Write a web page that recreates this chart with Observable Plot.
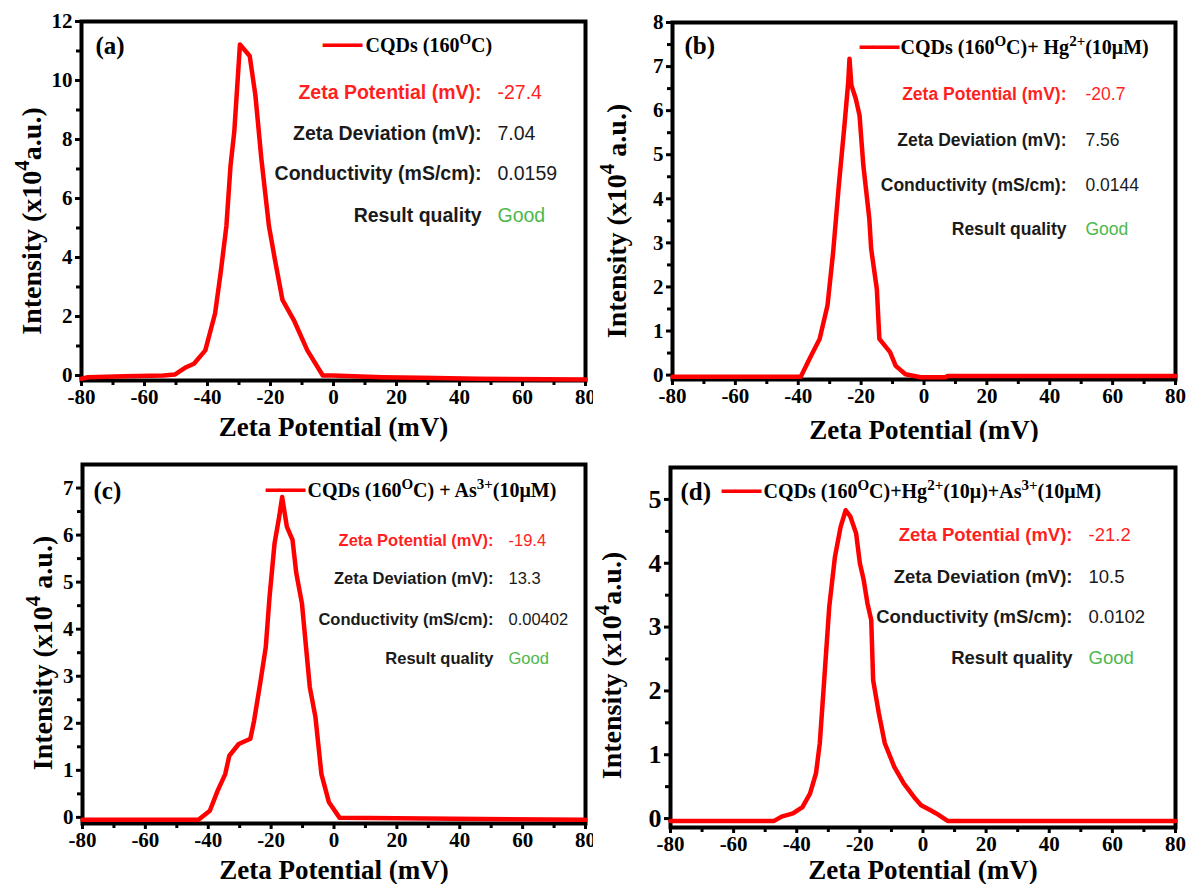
<!DOCTYPE html>
<html>
<head>
<meta charset="utf-8">
<script src="https://cdn.jsdelivr.net/npm/d3@7"></script>
<script src="https://cdn.jsdelivr.net/npm/@observablehq/plot@0.6"></script>
<style>
  html, body { margin: 0; padding: 0; background: #fff; }
  #root { position: relative; width: 1186px; height: 884px; overflow: hidden; }
  .cell { position: absolute; width: 593px; height: 442px; }
</style>
</head>
<body>
<div id="root"></div>
<script>
// ---------- data ----------
const xTicks = [-80, -60, -40, -20, 0, 20, 40, 60, 80];
const xMinor = [-70, -50, -30, -10, 10, 30, 50, 70];

const zetaA = [-80, -78, -66.3, -54, -50.4, -46.8, -44.3, -40.7, -37.6, -35.8, -34, -32.7, -31.5, -29.7, -26.6, -24.8, -22.9, -20.5, -18.6, -16.2, -12.6, -8.3, -3.4, -0.4, 15.5, 27.7, 46, 80];
const intensityA = [-0.11, -0.06, -0.03, 0, 0.03, 0.28, 0.4, 0.85, 2.1, 3.5, 5.07, 7.1, 8.26, 11.22, 10.83, 9.5, 7.35, 5.07, 3.93, 2.56, 1.88, 0.85, 0, 0, -0.06, -0.08, -0.11, -0.14];

const zetaB = [-80, -39.2, -36.2, -33.2, -30.7, -28.9, -27.1, -25.3, -24.1, -23.7, -23.1, -21.7, -20.5, -19.3, -17.4, -16.8, -15, -14.2, -10.8, -9, -5.9, -1.1, 6.8, 7.4, 80];
const intensityB = [-0.04, -0.04, 0.4, 0.82, 1.58, 2.79, 4.3, 5.67, 6.65, 7.18, 6.58, 6.27, 5.89, 4.76, 3.55, 2.86, 1.95, 0.82, 0.52, 0.21, 0.02, -0.05, -0.05, -0.02, -0.02];

const zetaC = [-80, -43.1, -39.5, -37, -34.6, -33.3, -30.3, -26.6, -25.4, -23.5, -21.7, -20.5, -18.9, -17.4, -16.5, -15, -13.2, -12, -10.2, -8.9, -7.7, -5.9, -4, -1.6, 1.8, 80];
const intensityC = [-0.05, -0.05, 0.14, 0.57, 0.92, 1.31, 1.56, 1.67, 2.06, 2.84, 3.62, 4.69, 5.83, 6.4, 6.81, 6.18, 5.9, 5.19, 4.55, 3.62, 2.77, 2.13, 0.92, 0.32, -0.01, -0.05];

const zetaD = [-80, -47.3, -44.8, -41.2, -38.2, -35.8, -33.9, -32.7, -31.3, -29.7, -27.9, -26.1, -24.5, -23, -21.2, -20, -18.8, -17.6, -16.4, -15.8, -14, -12.1, -9.1, -6.1, -2.4, -0.6, 2.4, 4.2, 7.9, 80];
const intensityD = [-0.04, -0.04, 0.03, 0.08, 0.18, 0.39, 0.71, 1.18, 2.17, 3.32, 4.1, 4.57, 4.83, 4.73, 4.47, 4.0, 3.74, 3.37, 3.11, 2.17, 1.65, 1.18, 0.81, 0.55, 0.31, 0.21, 0.13, 0.08, -0.04, -0.04];

const panelTags = ["(a)", "(b)", "(c)", "(d)"];
const legendTexts = [
  "CQDs (160^O^C)",
  "CQDs (160^O^C)+ Hg^2+^(10μM)",
  "CQDs (160^O^C) + As^3+^(10μM)",
  "CQDs (160^O^C)+Hg^2+^(10μ)+As^3+^(10μM)"
];
const statLabels = ["Zeta Potential (mV):", "Zeta Deviation (mV):", "Conductivity (mS/cm):", "Result quality"];
const statsA = ["-27.4", "7.04", "0.0159", "Good"];
const statsB = ["-20.7", "7.56", "0.0144", "Good"];
const statsC = ["-19.4", "13.3", "0.00402", "Good"];
const statsD = ["-21.2", "10.5", "0.0102", "Good"];

const yTicksA = [0, 2, 4, 6, 8, 10, 12], yMinorA = [1, 3, 5, 7, 9, 11];
const yTicksB = [0, 1, 2, 3, 4, 5, 6, 7, 8], yMinorB = [0.5, 1.5, 2.5, 3.5, 4.5, 5.5, 6.5, 7.5];
const yTicksC = [0, 1, 2, 3, 4, 5, 6, 7], yMinorC = [0.5, 1.5, 2.5, 3.5, 4.5, 5.5, 6.5];
const yTicksD = [0, 1, 2, 3, 4, 5], yMinorD = [0.5, 1.5, 2.5, 3.5, 4.5];

const xTitle = "Zeta Potential (mV)";
const yTitles = ["Intensity (x10^4^a.u.)", "Intensity (x10^4^ a.u.)", "Intensity (x10^4^ a.u.)", "Intensity (x10^4^a.u.)"];

// ---------- layout / style ----------
const serif = "'Liberation Serif', 'Times New Roman', serif";
const sans = "'Liberation Sans', Arial, sans-serif";
const RED = "#ff0000", STATRED = "#ff1f1f", GREEN = "#4cb84c", DARK = "#1a1a1a";

const panels = [
  {left: 0, top: 0, zeta: zetaA, intensity: intensityA, stats: statsA, yDomain: [-0.17, 12], yTicks: yTicksA, yMinor: yMinorA,
   m: {l: 81, r: 8, t: 21, b: 62}, tag: [14, 24], leg: [261, 24, 284], statX: [400, 416], statY: [71, 112, 152, 194], statSize: 19.5,
   xt: 47, yt: [-49, 20]},
  {left: 593, top: 0, zeta: zetaB, intensity: intensityB, stats: statsB, yDomain: [-0.1, 8], yTicks: yTicksB, yMinor: yMinorB,
   m: {l: 79, r: 11, t: 22, b: 63}, tag: [12, 23], leg: [207, 25, 228], statX: [394, 413], statY: [72, 118, 163, 207], statSize: 17.5,
   xt: 51, yt: [-55, 20]},
  {left: 0, top: 442, zeta: zetaC, intensity: intensityC, stats: statsC, yDomain: [-0.13, 7.5], yTicks: yTicksC, yMinor: yMinorC,
   m: {l: 82, r: 8, t: 22, b: 61}, tag: [11, 26], leg: [203, 26, 225], statX: [411, 426], statY: [76, 114, 155, 194], statSize: 16.5,
   xt: 47, yt: [-39, 9]},
  {left: 593, top: 442, zeta: zetaD, intensity: intensityD, stats: statsD, yDomain: [-0.14, 5.5], yTicks: yTicksD, yMinor: yMinorD,
   m: {l: 77, r: 11, t: 25, b: 57}, tag: [10, 24], leg: [71, 24, 93], statX: [402, 418], statY: [68, 110, 150, 191], statSize: 18.5,
   xt: 43, yt: [-58, 18], yTickFont: 26}
];

function at(str, dx, dy, opts) {
  return Plot.text([str], {text: d => d, frameAnchor: "top-left", dx, dy, lineAnchor: "middle", ...opts});
}

function richify(svg) {
  d3.select(svg).selectAll("text").each(function () {
    const t = this.textContent;
    if (!t.includes("^")) return;
    const sel = d3.select(this);
    sel.text(null);
    t.split("^").forEach((part, i) => {
      if (!part) return;
      const ts = sel.append("tspan").text(part);
      if (i % 2 === 1) ts.attr("baseline-shift", "super").attr("font-size", "75%");
    });
  });
}

const fmt = d => String(d);
const root = document.getElementById("root");
panels.forEach((p, k) => {
  const data = p.zeta.map((z, i) => ({z, v: p.intensity[i]}));
  const marks = [
    Plot.frame({stroke: "black", strokeWidth: 4}),
    Plot.axisX({ticks: xTicks, tickSize: 6, tickPadding: 3, strokeWidth: 3, label: null, tickFormat: fmt}),
    Plot.axisX({ticks: xMinor, tickSize: 5, strokeWidth: 3, tickFormat: () => "", label: null}),
    Plot.axisY({ticks: p.yTicks, tickSize: 6, tickPadding: 3, strokeWidth: 3, label: null, tickFormat: fmt, className: "ytl"}),
    Plot.axisY({ticks: p.yMinor, tickSize: 5, strokeWidth: 3, tickFormat: () => "", label: null}),
    Plot.line(data, {x: "z", y: "v", stroke: RED, strokeWidth: 4.5, strokeLinejoin: "round"}),
    at(panelTags[k], p.tag[0], p.tag[1], {textAnchor: "start", fontFamily: serif, fontWeight: "bold", fontSize: 25}),
    at("━━━", p.leg[0], p.leg[1], {textAnchor: "middle", fontFamily: "'DejaVu Sans Mono', monospace", fontSize: 22, fill: RED, fontWeight: "normal"}),
    at(legendTexts[k], p.leg[2], p.leg[1], {textAnchor: "start", fontFamily: serif, fontWeight: "bold", fontSize: 20}),
    Plot.text([xTitle], {text: d => d, frameAnchor: "bottom", dy: p.xt, lineAnchor: "middle", fontFamily: serif, fontWeight: "bold", fontSize: 27}),
    Plot.text([yTitles[k]], {text: d => d, frameAnchor: "left", dx: p.yt[0], dy: p.yt[1], rotate: -90, textAnchor: "middle", lineAnchor: "middle", fontFamily: serif, fontWeight: "bold", fontSize: 28})
  ];
  statLabels.forEach((lab, r) => {
    marks.push(at(lab, p.statX[0], p.statY[r], {textAnchor: "end", fontFamily: sans, fontWeight: "bold", fontSize: p.statSize, fill: r === 0 ? STATRED : DARK}));
    marks.push(at(p.stats[r], p.statX[1], p.statY[r], {textAnchor: "start", fontFamily: sans, fontWeight: "normal", fontSize: p.statSize, fill: r === 0 ? STATRED : r === 3 ? GREEN : DARK}));
  });
  const chart = Plot.plot({
    width: 593, height: 442,
    marginLeft: p.m.l, marginRight: p.m.r, marginTop: p.m.t, marginBottom: p.m.b,
    x: {domain: [-80, 80]},
    y: {domain: p.yDomain},
    style: {background: "white", color: "black", overflow: "visible", fontFamily: serif, fontWeight: "bold", fontSize: "21px"},
    marks
  });
  richify(chart);
  if (p.yTickFont) {
    d3.select(chart).selectAll("g").filter(function () {
      const a = this.getAttribute("aria-label") || "";
      const c = this.getAttribute("class") || "";
      return (a.startsWith("y-axis") && a.includes("label")) || c.includes("ytl");
    }).attr("font-size", p.yTickFont).selectAll("text").style("font-size", p.yTickFont + "px");
  }
  const cell = document.createElement("div");
  cell.className = "cell";
  cell.style.left = p.left + "px";
  cell.style.top = p.top + "px";
  cell.appendChild(chart);
  root.appendChild(cell);
});
</script>
</body>
</html>
